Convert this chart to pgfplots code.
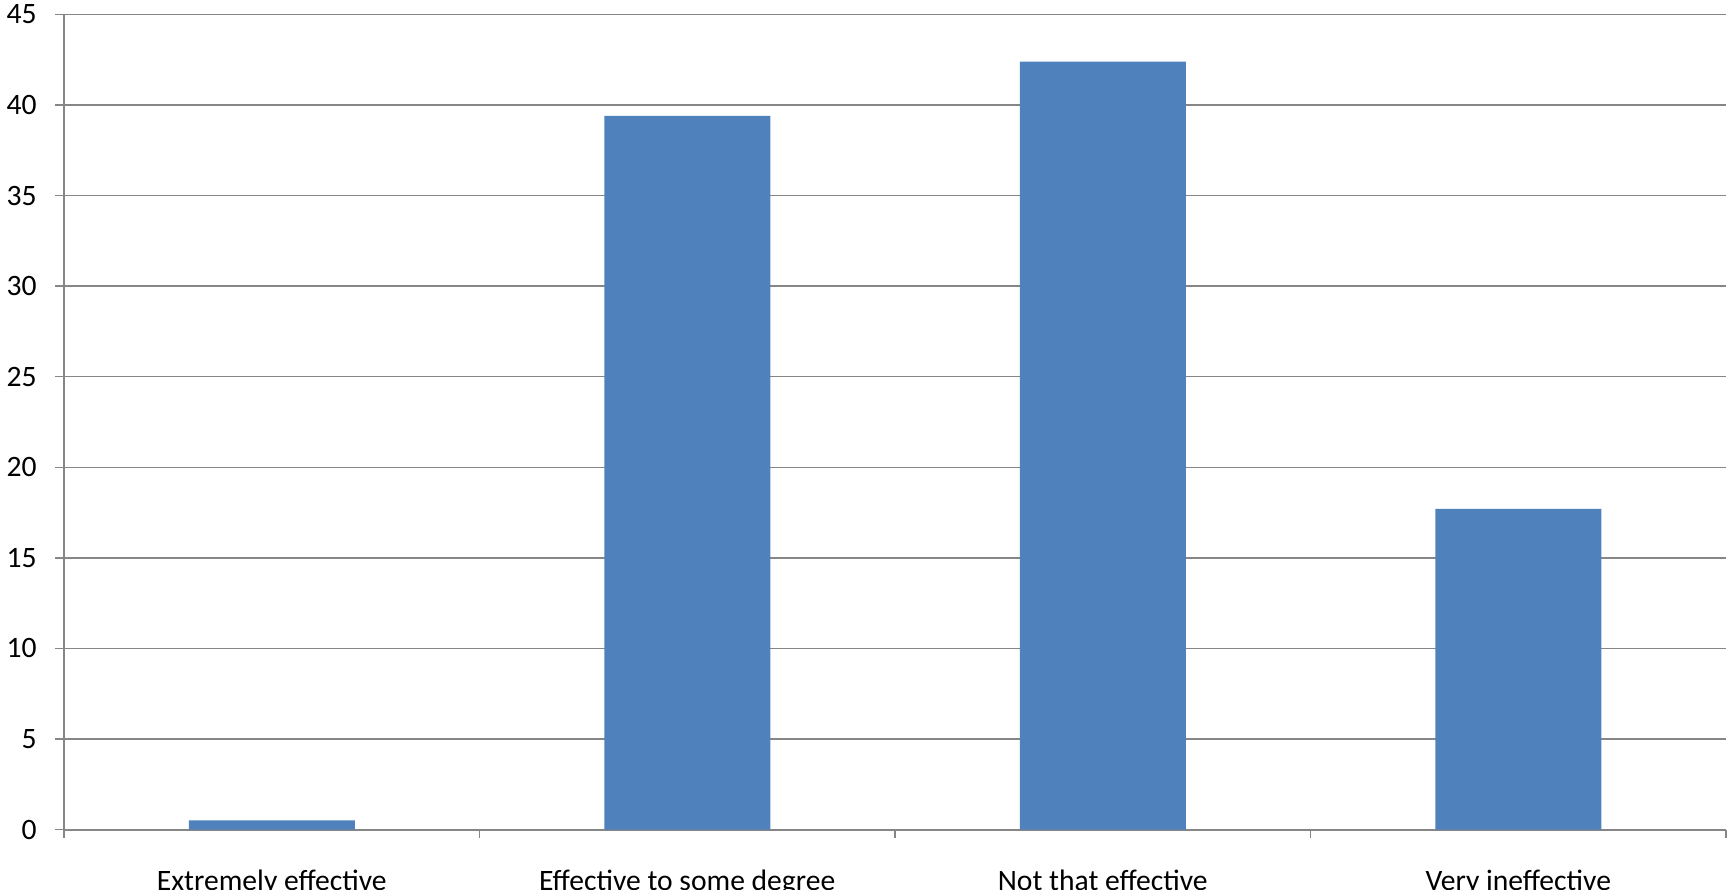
\documentclass[border=0pt]{standalone}
\usepackage{pgfplots}
\pgfplotsset{compat=1.18}
\usepackage{fontspec}
\setmainfont{Carlito}
\definecolor{barblue}{HTML}{4F81BD}
\definecolor{gridgray}{HTML}{868686}
\begin{document}
\begin{tikzpicture}
\useasboundingbox (-32pt,-29.75pt) rectangle (832pt,414.75pt);
\begin{axis}[
  at={(0,0)}, anchor=south west,
  scale only axis,
  width=831pt, height=407.5pt,
  xmin=-0.5, xmax=3.5,
  ymin=0, ymax=45,
  ytick={0,5,...,45},
  xtick={0,1,2,3},
  xticklabels={Extremely effective, Effective to some degree, Not that effective, Very ineffective},
  minor xtick={-0.5,0.5,1.5,2.5,3.5},
  major x tick style={draw=none},
  minor x tick style={draw=gridgray, line width=0.8pt},
  minor tick length=4pt,
  major tick length=4.5pt,
  tick align=outside,
  axis x line*=bottom,
  axis y line*=left,
  axis line style={-, draw=gridgray, line width=1pt},
  ytick style={draw=gridgray, line width=0.7pt},
  ymajorgrids,
  grid style={draw=gridgray, line width=0.7pt},
  tick label style={font=\fontsize{14.8}{17}\selectfont, text=black},
  /pgf/number format/assume math mode=true,
  yticklabel style={anchor=east, inner sep=0pt, xshift=-9pt},
  xticklabel style={anchor=base, inner sep=0pt, yshift=-26pt},
  ybar, bar width=83pt,
  axis on top=false,
]
\addplot[fill=barblue, draw=none] coordinates {(0,0.5) (1,39.4) (2,42.4) (3,17.7)};
\end{axis}
\end{tikzpicture}
\end{document}
